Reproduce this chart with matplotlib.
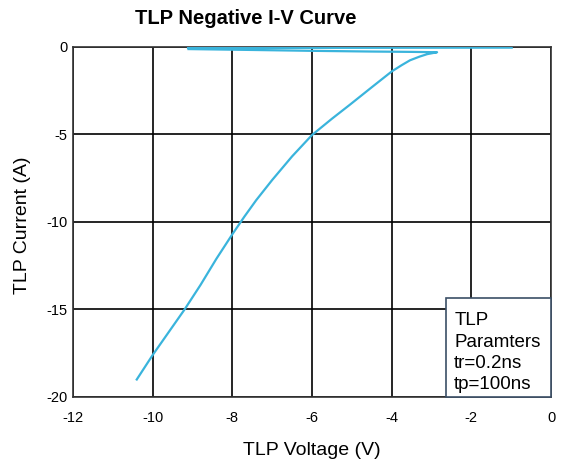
import matplotlib
matplotlib.use('Agg')
import matplotlib.pyplot as plt
from matplotlib.patches import Rectangle

plt.rcParams['font.family'] = ['Liberation Sans', 'DejaVu Sans']
plt.rcParams['axes.unicode_minus'] = False

# TLP sweep (V, A)
sweep_v = [-10.4, -10.0, -9.6, -9.2, -8.8, -8.4, -8.0, -7.7, -7.4, -7.0, -6.5, -6.0,
           -5.5, -5.05, -4.5, -4.0, -3.75, -3.54, -3.3, -3.11, -2.95, -2.86,
           -3.5, -4.5, -6.0, -7.5, -9.1]
sweep_i = [-19.0, -17.6, -16.3, -15.0, -13.6, -12.1, -10.7, -9.7, -8.75, -7.6, -6.25, -5.03,
           -4.1, -3.3, -2.3, -1.4, -1.04, -0.76, -0.55, -0.41, -0.34, -0.30,
           -0.28, -0.26, -0.22, -0.17, -0.12]
return_v = [-9.1, -7.0, -5.0, -3.0, -1.0]
return_i = [-0.03, -0.025, -0.02, -0.015, -0.01]

x_ticks = [-12, -10, -8, -6, -4, -2, 0]
y_ticks = [0, -5, -10, -15, -20]
box_text = 'TLP\nParamters\ntr=0.2ns\ntp=100ns'

fig = plt.figure(figsize=(5.63, 4.62), dpi=100)
ax = fig.add_axes([0.1297, 0.1407, 0.849, 0.7576])

ax.plot(sweep_v, sweep_i, color='#3ab4dc', lw=1.6, zorder=3, solid_joinstyle='round')
ax.plot(return_v, return_i, color='#3ab4dc', lw=2.3, zorder=3)

ax.set_xlim(-12, 0)
ax.set_ylim(-20, 0)
ax.set_xticks(x_ticks)
ax.set_yticks(y_ticks)
ax.tick_params(length=0, labelsize=10.5, pad=10)
ax.tick_params(axis='y', pad=4)
ax.grid(True, color='black', lw=1.2, zorder=1)
for s in ax.spines.values():
    s.set_color('#333333')
    s.set_linewidth(1.2)

# parameter box in the lower right corner
ax.add_patch(Rectangle((-2.635, -20), 2.635, 5.66, facecolor='white',
                       edgecolor='#3b4f66', lw=1.2, zorder=4, clip_on=False))
ax.text(-2.43, -15.15, box_text, fontsize=13.5, va='top', ha='left',
        linespacing=1.34, zorder=5)

ax.set_xlabel('TLP Voltage (V)', fontsize=14, labelpad=12)
ax.set_ylabel('TLP Current (A)', fontsize=14)
ax.yaxis.set_label_coords(-0.088, 0.49)
fig.text(0.437, 0.959, 'TLP Negative I-V Curve', fontsize=14.5,
         fontweight='bold', ha='center', va='center')

fig.savefig('out.png', dpi=100)
